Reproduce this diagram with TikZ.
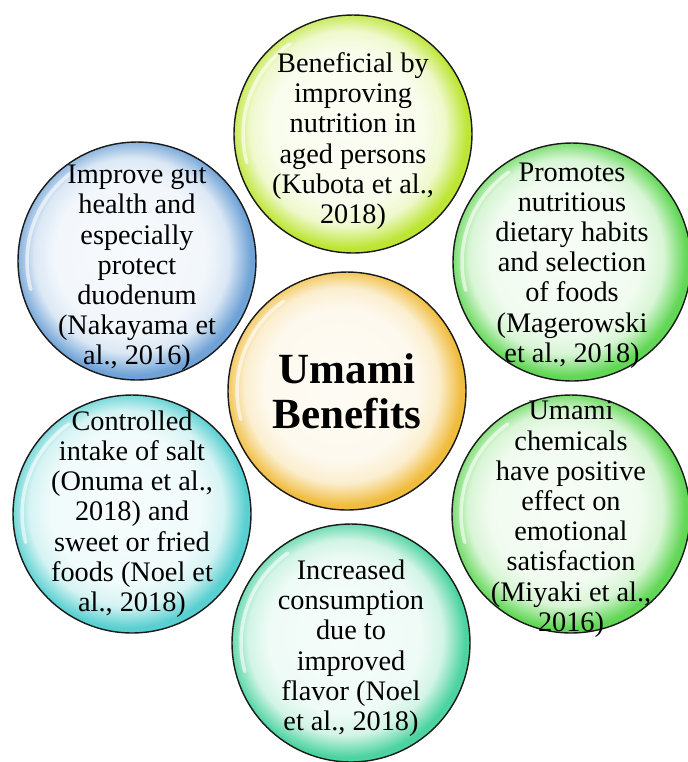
\documentclass[tikz,border=0pt]{standalone}
\usepackage{fontspec}
\setmainfont{Liberation Serif}
\usepackage{tikz}
\usetikzlibrary{positioning}
\usepackage{xcolor}
\definecolor{rimlime}{HTML}{BDE534}
\definecolor{rimblue}{HTML}{6FA2D6}
\definecolor{rimgreen}{HTML}{62D756}
\definecolor{rimgold}{HTML}{F0BC3E}
\definecolor{rimcyan}{HTML}{58CFD0}
\definecolor{rimmint}{HTML}{4CD3A0}
\definecolor{outline}{HTML}{1A1A1A}
\colorlet{bubblerim}{rimgold}

\pgfdeclareradialshading[bubblerim]{bubble}{\pgfpoint{-2bp}{2bp}}{%
  color(0bp)=(bubblerim!5!white);
  color(16bp)=(bubblerim!9!white);
  color(20.5bp)=(bubblerim!25!white);
  color(23.5bp)=(bubblerim!75!white);
  color(25bp)=(bubblerim);
  color(50bp)=(bubblerim)}

\begin{document}
\begin{tikzpicture}[
  x=0.02cm, y=-0.02cm,
  bubble/.style={circle, draw=outline, line width=0.8pt, minimum size=4.76cm, inner sep=0pt,
    shading=bubble, /utils/exec={\colorlet{bubblerim}{#1}}},
  txt/.style={align=center, inner sep=0pt, font=\fontsize{16.1}{17.2}\selectfont},
  hubtxt/.style={align=center, inner sep=0pt, font=\fontsize{24.5}{25.8}\selectfont\bfseries},
  gloss/.style={white, opacity=0.6, line width=2pt, line cap=round},
]
\useasboundingbox (0,0) rectangle (688,762);

\node[bubble=rimgold] (hub) at (347,391) {};
\node[bubble=rimlime] (kubota) at (353,134) {};
\node[bubble=rimblue] (nakayama) at (137,261) {};
\node[bubble=rimgreen] (magerowski) at (572,262) {};
\node[bubble=rimcyan] (onuma) at (132,514) {};
\node[bubble=rimgreen] (miyaki) at (571,514) {};
\node[bubble=rimmint] (noel) at (351,643) {};

% glossy streaks
\foreach \n in {hub,kubota,nakayama,magerowski,onuma,miyaki,noel}
  \draw[gloss] (\n.center) ++(125:2.2cm) arc[start angle=125, end angle=195, radius=2.2cm];

\node[hubtxt] (hub-t) at (hub) {Umami\\Benefits};
\node[txt] (kubota-t) at ([yshift=-4]kubota) {Beneficial by\\improving\\nutrition in\\aged persons\\(Kubota et al.,\\2018)};
\node[txt] (nakayama-t) at ([yshift=-4]nakayama) {Improve gut\\health and\\especially\\protect\\duodenum\\(Nakayama et\\al., 2016)};
\node[txt] (magerowski-t) at ([yshift=-2]magerowski) {Promotes\\nutritious\\dietary habits\\and selection\\of foods\\(Magerowski\\et al., 2018)};
\node[txt] (onuma-t) at (onuma) {Controlled\\intake of salt\\(Onuma et al.,\\2018) and\\sweet or fried\\foods (Noel et\\al., 2018)};
\node[txt] (miyaki-t) at ([yshift=-3]miyaki) {Umami\\chemicals\\have positive\\effect on\\emotional\\satisfaction\\(Miyaki et al.,\\2016)};
\node[txt] (noel-t) at ([yshift=-3]noel) {Increased\\consumption\\due to\\improved\\flavor (Noel\\et al., 2018)};

\end{tikzpicture}
\end{document}
